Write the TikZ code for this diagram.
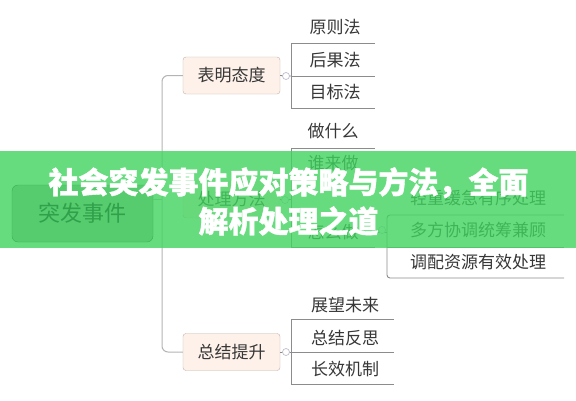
\documentclass[tikz,border=0pt]{standalone}
\usepackage{fontspec}
\setmainfont{Noto Sans CJK SC}
\newfontfamily\titlefont[BoldFeatures={FakeBold=1.3}]{Noto Sans CJK SC}
\usetikzlibrary{positioning}
\definecolor{bandgreen}{RGB}{66,212,96}
\definecolor{rootfill}{RGB}{86,204,110}
\definecolor{rootdraw}{RGB}{58,176,86}
\definecolor{roottext}{RGB}{48,160,74}
\definecolor{rootlink}{RGB}{89,206,113}
\definecolor{peach}{RGB}{253,241,233}
\definecolor{peachline}{RGB}{196,178,170}
\definecolor{trunkgray}{RGB}{180,180,180}
\definecolor{cellgray}{RGB}{140,140,140}
\definecolor{knobline}{RGB}{190,190,210}
\definecolor{txt}{RGB}{55,55,55}
\tikzset{topic/.style={draw=peachline, fill=peach, rounded corners=3pt, minimum width=97pt, minimum height=37pt, inner sep=0pt, font=\fontsize{17}{17}\selectfont, text=txt}}
\tikzset{leaf/.style={font=\fontsize{17}{17}\selectfont, text=txt, inner sep=0pt}}
\tikzset{trunk/.style={draw=trunkgray, line width=1pt, rounded corners=6pt}}
\tikzset{cell/.style={draw=cellgray, line width=0.9pt}}
\tikzset{knob/.style={circle, draw=knobline, fill=white, line width=0.7pt, inner sep=0pt, minimum size=7pt}}

\begin{document}
\begin{tikzpicture}[x=1pt,y=-1pt]
      \useasboundingbox (0,0) rectangle (576,400);
      \fill[white] (0,0) rectangle (576,400);
      % main branches
      \node[topic] (attitude) at (231.5,75.5) {表明态度};
      \node[topic] (handle) at (231.5,199.5) {处理方法};
      \node[topic] (summary) at (231.5,352) {总结提升};
      \coordinate (tb) at (162,352);
      \draw[trunk] (attitude.west) -| (tb) -- (summary.west);
      % 表明态度
      \coordinate (a0) at (291,43);
      \coordinate (a1) at (291,76);
      \coordinate (a2) at (291,108);
      \draw[cell] (attitude.east) -- (a1);
      \draw[cell] (a0) -- ++(84,0) (a1) -- ++(84,0) (a0) -- (a2) -- ++(84,0);
      \node[knob] (ka) at (286,76) {};
      \node[leaf] (yuanze) at (335,27) {原则法};
      \node[leaf] (houguo) at (335,60) {后果法};
      \node[leaf] (mubiao) at (335,92) {目标法};
      % 处理方法
      \coordinate (h0) at (291,148);
      \coordinate (h1) at (291,247);
      \draw[cell] (handle.east) -- (handle.east -| h0);
      \draw[cell] (h0) -- ++(84,0) (h0) -- (h1) -- ++(84,0);
      \node[knob] (kh) at (285,200) {};
      \node[leaf] (what) at (333,131) {做什么};
      \node[leaf] (who) at (333,163) {谁来做};
      \node[leaf] (how) at (333,232) {怎么做};
      \coordinate (w0) at (387,215);
      \coordinate (w1) at (387,278);
      \draw[cell] (how.east) -- (how.east -| w0);
      \draw[cell, rounded corners=3pt] (564,215) -- (w0) -- (w1) -- (564,278);
      \draw[cell] (387,247) -- (564,247);
      \node[knob] (kw) at (382,230) {};
      \node[leaf] (order) at (478,198) {轻重缓急有序处理};
      \node[leaf] (coord) at (478,230) {多方协调统筹兼顾};
      \node[leaf] (alloc) at (478,262) {调配资源有效处理};
      % 总结提升
      \coordinate (s0) at (291,319);
      \coordinate (s1) at (291,352);
      \coordinate (s2) at (291,384);
      \draw[cell] (summary.east) -- (s1);
      \draw[cell] (s0) -- ++(103,0) (s1) -- ++(103,0) (s0) -- (s2) -- ++(103,0);
      \node[knob] (ks) at (286,352) {};
      \node[leaf] (future) at (345,305) {展望未来};
      \node[leaf] (review) at (345,338) {总结反思};
      \node[leaf] (mech) at (345,369) {长效机制};
      % title band, root sits in it
      \fill[bandgreen, opacity=0.8] (0,151) rectangle (576,248);
      \node[draw=rootdraw, fill=rootfill, rounded corners=6pt, minimum width=141pt, minimum height=57pt, inner sep=0pt, font=\fontsize{22}{22}\selectfont, text=roottext] (root) at (82.5,213.5) {突发事件};
      \draw[trunk, draw=rootlink] (root.east |- handle.west) -- (handle.west -| tb);
      \node[font=\titlefont\fontsize{30}{39}\selectfont\bfseries, text=white, align=center, inner sep=0pt] (title) at (288.5,201.5) {社会突发事件应对策略与方法，全面\\解析处理之道};
    \end{tikzpicture}
\end{document}
